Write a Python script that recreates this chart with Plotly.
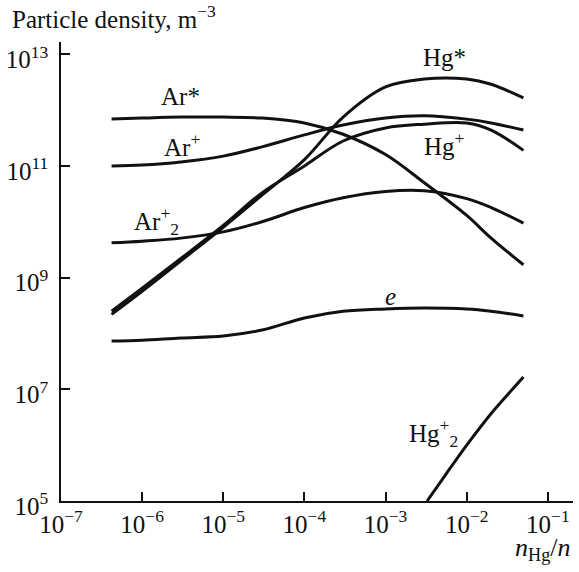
import plotly.graph_objects as go

# ---- data ----
x_common = [4.2e-7, 1e-6, 3e-6, 1e-5, 3e-5, 1e-4, 3e-4, 1e-3, 3e-3, 1e-2, 2e-2, 5e-2]
ar_star = [6.9e11, 7.2e11, 7.5e11, 7.5e11, 7.2e11, 5.9e11, 3.7e11, 1.6e11, 5.0e10, 1.3e10, 5.1e9, 1.7e9]
ar_plus = [1.0e11, 1.04e11, 1.18e11, 1.5e11, 2.2e11, 3.6e11, 5.4e11, 7.2e11, 7.9e11, 6.9e11, 5.9e11, 4.4e11]
hg_star = [2.2e8, 5.7e8, 2.0e9, 8.0e9, 3.0e10, 1.3e11, 7.5e11, 2.6e12, 3.6e12, 3.6e12, 2.9e12, 1.65e12]
hg_plus = [2.5e8, 6.5e8, 2.2e9, 8.6e9, 3.3e10, 1.0e11, 2.8e11, 4.8e11, 5.6e11, 5.9e11, 4.4e11, 1.9e11]
ar2_plus = [4.2e9, 4.5e9, 5.1e9, 6.6e9, 1.0e10, 1.8e10, 2.7e10, 3.5e10, 3.6e10, 2.6e10, 1.8e10, 9.5e9]
electrons = [7.3e7, 7.6e7, 8.3e7, 9.0e7, 1.15e8, 1.9e8, 2.5e8, 2.75e8, 2.86e8, 2.75e8, 2.5e8, 2.06e8]
x_hg2 = [3.25e-3, 5.7e-3, 1.0e-2, 2.1e-2, 5.0e-2]
hg2_plus = [1.0e5, 3.2e5, 1.0e6, 4.0e6, 1.66e7]

x_ticks = [1e-7, 1e-6, 1e-5, 1e-4, 1e-3, 1e-2, 1e-1]
x_ticktext = ["10<sup>−7</sup>", "10<sup>−6</sup>", "10<sup>−5</sup>", "10<sup>−4</sup>",
              "10<sup>−3</sup>", "10<sup>−2</sup>", "10<sup>−1</sup>"]
y_ticks = [1e5, 1e7, 1e9, 1e11, 1e13]
y_ticktext = ["10<sup>5</sup>", "10<sup>7</sup>", "10<sup>9</sup>", "10<sup>11</sup>", "10<sup>13</sup>"]

# label text and log-coordinate positions
labels = [
    ("Ar*", -5.533, 12.253),
    ("Ar<sup>+</sup>", -5.508, 11.375),
    ("Ar<sup>+</sup><sub>2</sub>", -5.817, 10.014),
    ("Hg*", -2.279, 12.951),
    ("Hg<sup>+</sup>", -2.279, 11.393),
    ("<i>e</i>", -2.944, 8.671),
    ("Hg<sup>+</sup><sub>2</sub>", -2.414, 6.218),
]

FONT = "Liberation Serif"
INK = "#111111"
LINE = dict(color=INK, width=3, shape="spline", smoothing=1.0)

fig = go.Figure()
for ys in [ar_star, ar_plus, hg_star, hg_plus, ar2_plus, electrons]:
    fig.add_trace(go.Scatter(x=x_common, y=ys, mode="lines", line=LINE,
                             showlegend=False, hoverinfo="skip"))
fig.add_trace(go.Scatter(x=x_hg2, y=hg2_plus, mode="lines",
                         line=dict(color=INK, width=3, shape="spline", smoothing=0.6),
                         showlegend=False, hoverinfo="skip"))

for text, lx, ly in labels:
    fig.add_annotation(x=lx, y=ly, xref="x", yref="y", text=text, showarrow=False,
                       font=dict(family=FONT, size=25, color=INK))

# title and axis title placed in paper coordinates
W, H = 579, 572
L, R, T, B = 61, 6, 42, 71
pw, ph = W - L - R, H - T - B
def px_to_paper(px, py):
    return (px - L) / pw, (H - B - py) / ph

tx, ty = px_to_paper(10, 17)
fig.add_annotation(x=tx, y=ty, xref="paper", yref="paper", xanchor="left", yanchor="middle",
                   text="Particle density, m<sup>−3</sup>", showarrow=False,
                   font=dict(family=FONT, size=25, color=INK))
ax_, ay_ = px_to_paper(572, 549)
fig.add_annotation(x=ax_, y=ay_, xref="paper", yref="paper", xanchor="right", yanchor="middle",
                   text="<i>n</i><sub>Hg</sub>/<i>n</i>", showarrow=False,
                   font=dict(family=FONT, size=26, color=INK))

fig.update_layout(
    width=W, height=H,
    margin=dict(l=L, r=R, t=T, b=B),
    paper_bgcolor="white", plot_bgcolor="white",
    showlegend=False,
)
fig.update_xaxes(type="log", range=[-7, -0.69], tickvals=x_ticks, ticktext=x_ticktext,
                 ticks="inside", ticklen=9, tickwidth=1.5, tickcolor=INK,
                 showline=True, linecolor=INK, linewidth=1.5, showgrid=False,
                 zeroline=False, tickfont=dict(family=FONT, size=25, color=INK))
fig.update_yaxes(type="log", range=[5, 13.22], tickvals=y_ticks, ticktext=y_ticktext,
                 ticks="inside", ticklen=9, tickwidth=1.5, tickcolor=INK,
                 showline=True, linecolor=INK, linewidth=1.5, showgrid=False,
                 ticklabelstandoff=6, ticklabelshift=5,
                 zeroline=False, tickfont=dict(family=FONT, size=25, color=INK))

fig.write_html("out.html")
